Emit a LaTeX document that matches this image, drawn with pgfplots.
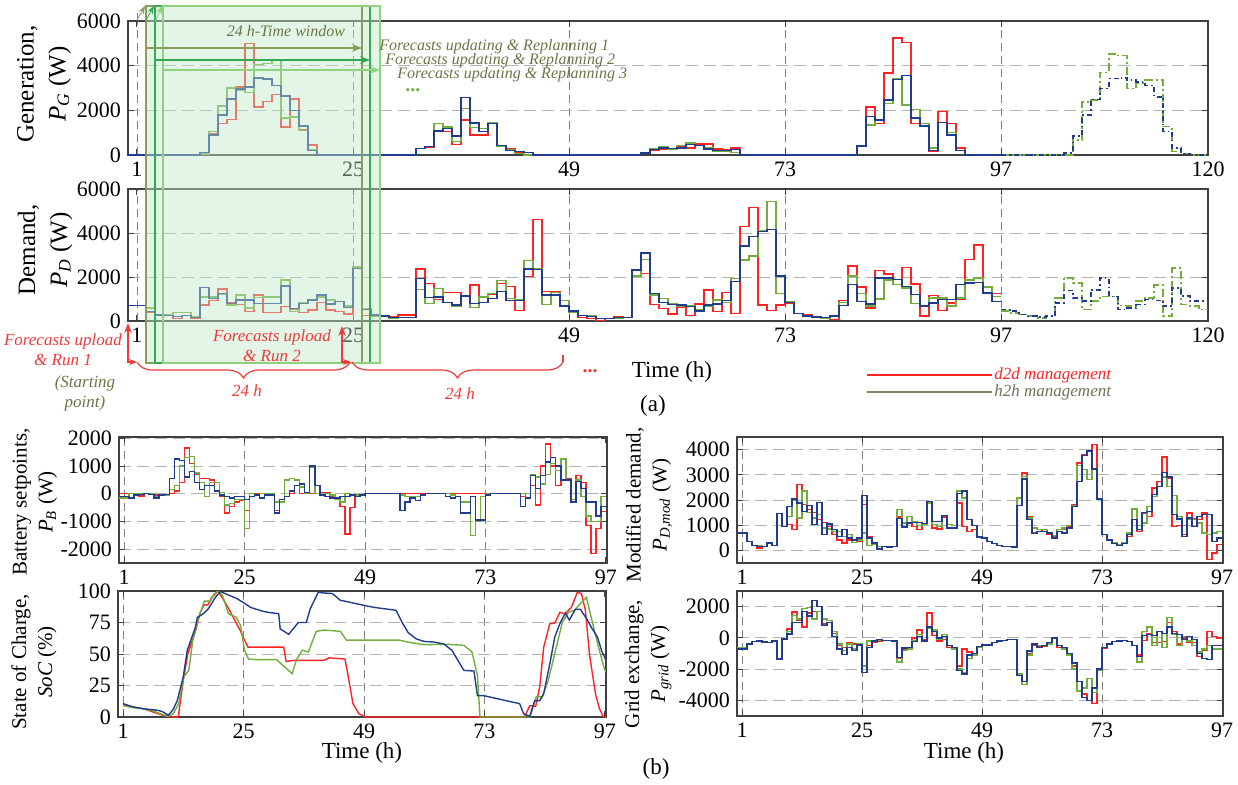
\documentclass[border=0pt]{standalone}
\usepackage{fontspec}
\setmainfont{Liberation Serif}
\usepackage{pgfplots}
\pgfplotsset{compat=1.18}
\usetikzlibrary{arrows.meta,decorations.pathreplacing}

\definecolor{cR}{HTML}{FF2323}
\definecolor{cG}{HTML}{72AD3E}
\definecolor{cB}{HTML}{213C8C}
\definecolor{txtOlive}{HTML}{6E7449}
\definecolor{legOlive}{HTML}{80866A}
\definecolor{annRed}{HTML}{F03A3A}
\definecolor{win1}{HTML}{8C9C5A}
\definecolor{win2}{HTML}{35A853}
\definecolor{win3}{HTML}{8ED27E}
\definecolor{winFill}{HTML}{BFE9CA}

\pgfplotsset{
  panel/.style={scale only axis, anchor=south west, no markers, clip=true,
    axis line style={black!75, line width=0.6pt},
    tick align=inside, major tick length=3pt,
    tick style={black!75, line width=0.5pt},
    grid=major,
    x grid style={black!50, line width=0.45pt, dash pattern=on 4pt off 2.5pt},
    y grid style={black!30, line width=0.45pt, dash pattern=on 6pt off 3pt},
    tick label style={font=\fontsize{11}{13}\selectfont},
    /pgf/number format/1000 sep={},
    /pgf/number format/assume math mode=true,
  },
  sR/.style={const plot, cR, line width=0.7pt},
  sG/.style={const plot, cG, line width=0.7pt},
  sB/.style={const plot, cB, line width=0.7pt},
  fG/.style={const plot, cG, line width=0.8pt, dash pattern=on 4pt off 1.5pt on 1pt off 1.5pt},
  fB/.style={const plot, cB, line width=0.8pt, dash pattern=on 2.5pt off 1.5pt on 0.8pt off 1.5pt},
}

\begin{document}
\begin{tikzpicture}[x=0.5pt,y=-0.5pt]
\useasboundingbox (0,0) rectangle (1238,784);

% ---------------- (a) generation ----------------
\begin{axis}[panel, at={(64pt,-77.5pt)}, width=540pt, height=67pt,
  xmin=0, xmax=120, ymin=0, ymax=6000,
  xtick={1,25,49,73,97,120}, ytick={0,2000,4000,6000}]
\addplot[sR] coordinates {(0,0) (8,100) (9,950) (10,1400) (11,1600) (12,3050) (13,5000) (14,2150) (15,2400) (16,2700) (17,1250) (18,2500) (19,1150) (20,450) (21,0) (32,280) (33,330) (34,1050) (35,1050) (36,460) (37,1570) (38,900) (39,900) (40,1420) (41,430) (42,280) (43,90) (44,0) (57,90) (58,210) (59,270) (60,280) (61,360) (62,310) (63,500) (64,500) (65,270) (66,240) (67,310) (68,0) (81,400) (82,2150) (83,1400) (84,3670) (85,5240) (86,5050) (87,1400) (88,1300) (89,160) (90,1940) (91,1400) (92,310) (93,0) (97,0)};
\addplot[sG] coordinates {(0,0) (8,50) (9,1050) (10,2200) (11,3000) (12,2900) (13,2800) (14,4050) (15,4100) (16,4250) (17,1650) (18,1700) (19,1100) (20,250) (21,0) (32,280) (33,390) (34,1400) (35,1250) (36,610) (37,2090) (38,1230) (39,1200) (40,1450) (41,400) (42,240) (43,60) (44,0) (57,60) (58,270) (59,390) (60,250) (61,420) (62,530) (63,420) (64,310) (65,160) (66,160) (67,120) (68,0) (81,400) (82,1350) (83,1600) (84,2300) (85,3420) (86,2240) (87,2040) (88,1420) (89,310) (90,1450) (91,1000) (92,200) (93,0) (97,0)};
\addplot[sB] coordinates {(0,0) (8,100) (9,900) (10,1800) (11,2500) (12,2950) (13,3050) (14,3450) (15,3400) (16,3100) (17,2650) (18,2000) (19,1300) (20,200) (21,0) (32,280) (33,390) (34,1080) (35,1200) (36,860) (37,2580) (38,1430) (39,1050) (40,1400) (41,430) (42,200) (43,160) (44,120) (45,0) (57,90) (58,240) (59,310) (60,280) (61,310) (62,460) (63,430) (64,270) (65,210) (66,210) (67,240) (68,0) (81,400) (82,1720) (83,1570) (84,2460) (85,3380) (86,3570) (87,1650) (88,1300) (89,200) (90,1450) (91,900) (92,200) (93,0) (97,0)};
\addplot[fG] coordinates {(97,0) (105,680) (106,2380) (107,2450) (108,3700) (109,4530) (110,4450) (111,2970) (112,3230) (113,3350) (114,3350) (115,1270) (116,160) (117,60) (118,0) (120,0)};
\addplot[fB] coordinates {(97,0) (104,90) (105,860) (106,1790) (107,2490) (108,2970) (109,3420) (110,3460) (111,3350) (112,3270) (113,3120) (114,2600) (115,1050) (116,310) (117,60) (118,0) (120,0)};
\end{axis}

% ---------------- (a) demand ----------------
\begin{axis}[panel, at={(64pt,-160.5pt)}, width=540pt, height=66pt,
  xmin=0, xmax=120, ymin=0, ymax=6000,
  xtick={1,25,49,73,97,120}, ytick={0,2000,4000,6000}]
\addplot[sR] coordinates {(0,700) (2,380) (3,270) (4,240) (5,120) (6,240) (7,120) (8,730) (9,920) (10,1450) (11,830) (12,760) (13,420) (14,1180) (15,380) (16,380) (17,650) (18,530) (19,380) (20,500) (21,850) (22,500) (23,420) (24,320) (25,2450) (26,240) (27,240) (28,230) (29,200) (30,270) (32,2360) (33,1710) (34,980) (35,1290) (36,1290) (37,1140) (38,1640) (39,1080) (40,1210) (41,1710) (42,1560) (43,470) (44,2010) (45,4620) (46,1330) (47,1330) (48,920) (49,420) (50,150) (51,120) (52,15) (53,120) (54,200) (55,150) (56,2320) (57,2170) (58,760) (59,580) (60,320) (61,610) (62,240) (63,770) (64,1410) (65,420) (66,1290) (67,350) (68,4290) (69,5170) (70,730) (71,470) (72,730) (73,800) (74,330) (75,300) (76,195) (77,150) (78,75) (79,940) (80,2500) (81,1540) (82,600) (83,2290) (84,2140) (85,1900) (86,2430) (87,1690) (88,225) (89,1150) (90,490) (91,820) (92,1000) (93,2800) (94,3450) (95,1540) (96,1240) (97,1240)};
\addplot[sG] coordinates {(0,700) (2,600) (3,270) (4,270) (5,380) (6,380) (7,200) (8,1100) (9,1100) (10,1230) (11,730) (12,1180) (13,600) (14,1060) (15,1100) (16,1100) (17,1860) (18,420) (19,830) (20,950) (21,1100) (22,950) (23,900) (24,680) (25,2450) (26,580) (27,230) (28,230) (29,120) (30,150) (32,1440) (33,800) (34,1480) (35,830) (36,650) (37,1140) (38,620) (39,1100) (40,1260) (41,1830) (42,1030) (43,950) (44,2740) (45,2360) (46,760) (47,1290) (48,920) (49,380) (50,240) (51,240) (52,120) (55,150) (56,2040) (57,2800) (58,1180) (59,1030) (60,800) (61,650) (62,680) (63,530) (64,650) (65,950) (66,830) (67,1940) (68,2770) (69,2950) (70,4090) (71,5420) (72,1260) (73,880) (74,330) (75,225) (76,150) (77,105) (78,225) (79,850) (80,2050) (81,1240) (82,675) (83,1000) (84,1870) (85,1650) (86,1500) (87,790) (88,700) (89,1050) (90,1050) (91,675) (92,1050) (93,1870) (94,1950) (95,1540) (96,1120) (97,1120)};
\addplot[sB] coordinates {(0,700) (2,420) (3,270) (4,240) (5,200) (6,240) (7,170) (8,1530) (9,1030) (10,1260) (11,800) (12,950) (13,950) (14,800) (17,1590) (18,580) (19,800) (20,950) (21,1180) (22,770) (23,900) (24,620) (25,2400) (26,530) (27,270) (28,230) (29,150) (32,1940) (33,1080) (34,1100) (35,830) (36,730) (37,1140) (38,800) (39,830) (40,1030) (41,1330) (42,920) (43,920) (44,2360) (45,2350) (46,1180) (47,1180) (48,680) (49,450) (50,240) (51,200) (52,120) (54,150) (56,2320) (57,3100) (58,1260) (59,850) (60,760) (61,730) (62,650) (63,450) (64,730) (65,770) (66,920) (67,1790) (68,3410) (69,3830) (70,4060) (71,4170) (72,2040) (73,830) (74,330) (75,225) (76,180) (77,150) (78,225) (79,700) (80,1650) (81,900) (82,780) (83,1950) (84,1950) (85,1900) (86,1570) (87,1200) (88,675) (89,820) (90,970) (91,970) (92,1650) (93,1720) (94,1750) (95,1270) (96,900) (97,900)};
\addplot[fG] coordinates {(97,450) (98,375) (99,300) (100,225) (101,150) (102,255) (103,1050) (104,1950) (105,1720) (106,520) (107,900) (108,1120) (109,1120) (110,700) (111,675) (112,900) (113,1050) (114,1650) (115,225) (116,2400) (117,750) (118,675) (119,520) (120,520)};
\addplot[fB] coordinates {(97,520) (98,450) (99,300) (100,225) (101,180) (102,225) (103,820) (104,1390) (105,1050) (106,900) (107,1420) (108,1950) (109,1120) (110,520) (111,600) (112,750) (113,970) (114,940) (115,675) (116,1500) (117,1150) (118,900) (120,900)};
\end{axis}

% ---------------- (b) battery setpoints ----------------
\begin{axis}[panel, at={(59.5pt,-281.5pt)}, width=244pt, height=63pt,
  xmin=0, xmax=97.2, ymin=-2500, ymax=2050,
  xtick={1,25,49,73,97}, ytick={-2000,-1000,0,1000,2000}]
\addplot[sR] coordinates {(0,0) (4,-80) (5,0) (7,-50) (9,-30) (10,0) (11,100) (12,400) (13,1650) (14,1100) (15,700) (16,550) (18,500) (19,100) (20,-100) (21,-700) (22,-450) (23,-300) (24,-250) (25,-600) (26,0) (31,-600) (32,-200) (33,-100) (34,0) (35,300) (36,0) (40,50) (42,-100) (43,-200) (44,-450) (45,-1450) (46,-500) (47,-100) (48,-50) (49,0) (80,-100) (81,0) (82,300) (83,-400) (84,1000) (85,1800) (86,1000) (87,300) (88,500) (89,550) (90,-200) (91,650) (92,400) (93,-1150) (94,-2150) (95,-1250) (96,-650) (97,-650)};
\addplot[sG] coordinates {(0,-150) (2,0) (7,-100) (8,-50) (10,150) (11,300) (12,1000) (13,1300) (14,1350) (15,750) (16,400) (17,-100) (18,400) (20,50) (21,-400) (22,-350) (23,-200) (25,-1250) (26,0) (27,-50) (28,0) (31,-300) (33,500) (34,550) (35,500) (36,250) (37,0) (38,950) (39,0) (40,-50) (41,0) (42,-50) (43,-200) (44,-300) (45,0) (46,-50) (49,0) (56,-50) (57,-100) (60,-50) (61,0) (66,-50) (67,-100) (68,-300) (70,-1500) (71,-1000) (72,-100) (73,0) (82,700) (83,600) (84,350) (85,700) (86,1100) (87,850) (88,1250) (89,500) (90,-200) (91,500) (92,-100) (93,-800) (94,-1000) (96,-100) (97,-100)};
\addplot[sB] coordinates {(0,-100) (2,-150) (3,-50) (4,-30) (5,0) (6,-30) (7,-150) (8,-50) (9,-20) (10,550) (11,1250) (12,1200) (13,600) (14,800) (15,400) (16,150) (17,300) (19,100) (20,-50) (21,-100) (22,-150) (23,-100) (25,-200) (26,-100) (27,-50) (28,-150) (29,-50) (31,-700) (32,-200) (33,-100) (34,100) (35,300) (36,350) (37,50) (38,1000) (39,300) (40,-50) (41,-100) (42,-150) (44,-100) (46,-50) (47,-100) (48,-50) (49,0) (56,-600) (57,-300) (58,-150) (59,-250) (60,-50) (61,0) (65,-100) (66,-150) (67,-100) (68,-700) (70,-100) (71,-950) (73,-50) (74,0) (80,-450) (81,-150) (82,650) (83,200) (84,650) (85,1150) (86,1300) (87,1000) (88,500) (90,-300) (91,450) (92,200) (93,-300) (95,-800) (96,-450) (97,-450)};
\end{axis}

% ---------------- (b) state of charge ----------------
\begin{axis}[panel, at={(59pt,-358.5pt)}, width=244pt, height=63pt,
  xmin=0, xmax=97.2, ymin=0, ymax=100,
  xtick={1,25,49,73,97}, ytick={0,25,50,75,100}]
\addplot[cR, line width=0.7pt] coordinates {(1,10) (3,8) (5,6.6) (7,4) (9,1.3) (10,0) (12,0) (13,29) (13.9,50) (15.5,69) (16.3,82) (17.1,89) (17.9,89) (18.7,95) (19.9,100) (21.1,92.6) (21.9,87) (23.1,78) (24.3,69) (25.1,62) (25.9,55.5) (33,55.5) (33.5,44) (35,45) (41,45) (42.1,47) (45.2,46) (45.6,38) (46.8,10.6) (48,2.6) (49.2,0) (81,0) (82,9) (83.2,8.5) (84,24) (84.8,55.5) (86,74) (87,74.6) (88,83) (89.1,82) (90.3,87) (91.5,99) (92.3,98) (93.1,84.7) (93.9,50) (95.1,18.5) (95.9,6.6) (96.7,0) (97.2,0)};
\addplot[cG, line width=0.7pt] coordinates {(1,9) (3,7.4) (5,6.6) (7,4.8) (9,1.8) (10,0.5) (11,2.6) (12.1,10.6) (13.1,32) (14.1,37) (14.9,61) (16.1,79) (17.2,92) (18.4,92) (19.2,98) (20,100) (20.8,96.6) (22,82) (23.6,79) (24.4,72.8) (25.2,53) (26,46) (27.6,45.5) (31.6,45.5) (33.2,39.7) (34.7,34.4) (35.5,45) (36.7,53) (37.9,51.6) (39.5,68) (41.1,69) (44.3,68) (45.5,61) (48.2,61) (56.1,61) (57.7,59.5) (60.9,57.4) (65.7,57.7) (68.9,56.9) (70.5,51.6) (71.6,33) (72.1,0) (82.1,0) (83.3,16) (84.5,16) (85.7,29) (87.3,55.5) (88.5,75) (89.7,83) (90.9,84.7) (92.1,90) (93.3,95) (94.5,75) (95.7,55.5) (96.9,38) (97.2,35.7)};
\addplot[cB, line width=0.7pt] coordinates {(1,10.6) (3,8) (5,6.6) (8,5.3) (9,4) (10,1.3) (11,6) (11.8,13) (13,32) (13.8,53) (15.4,71) (15.8,79) (17,82) (18,86) (19.4,95) (20.4,99.7) (21.3,98) (23.7,94) (24.9,91) (26.4,87) (28.8,84) (30,83) (32,82) (32.3,70) (34,65.6) (34.7,69) (35.9,75) (37.5,75) (38.3,86) (39.9,99) (41.1,98.4) (42.7,98) (44.3,92.6) (45.1,92) (47.4,90) (49,88.6) (51,87) (55.4,84.7) (56.6,75) (57.8,67) (59.4,62) (61,60) (62.9,59.5) (64.9,58) (66.5,53) (67.7,45) (68.9,37) (70.9,36.5) (71.6,17) (72.8,17) (75.6,14.5) (78.4,12) (80,10.6) (80.8,2.6) (82,0.5) (83,13) (84,13) (84.8,18.5) (86,42) (87,63.5) (88,74) (89.1,82.5) (89.9,77) (91.1,85.5) (92.1,85.5) (93.5,77) (94.3,71) (95.5,63.5) (96.3,53) (97.2,45)};
\end{axis}

% ---------------- (b) modified demand ----------------
\begin{axis}[panel, at={(368.5pt,-281.5pt)}, width=243pt, height=63pt,
  xmin=0, xmax=97.2, ymin=-500, ymax=4500,
  xtick={1,25,49,73,97}, ytick={0,1000,2000,3000,4000}]
\addplot[sR] coordinates {(0,690) (2,360) (3,185) (4,93) (5,160) (6,265) (7,185) (8,1460) (9,950) (10,1020) (11,820) (12,2610) (13,1820) (14,1620) (15,1510) (16,1220) (17,1110) (18,950) (19,620) (20,420) (21,290) (22,420) (23,320) (24,360) (25,1820) (26,530) (27,290) (28,160) (30,130) (31,160) (32,1330) (33,1090) (34,1060) (35,950) (36,820) (37,1020) (38,1880) (39,890) (40,850) (41,1330) (42,890) (44,1880) (45,950) (46,755) (47,820) (48,530) (49,490) (50,360) (51,265) (52,185) (53,160) (55,130) (56,2080) (57,3070) (58,1330) (59,715) (60,755) (61,820) (62,620) (63,530) (64,820) (66,950) (67,1820) (68,3470) (69,3800) (70,3960) (71,4200) (72,2040) (73,620) (74,420) (75,290) (76,225) (77,320) (78,560) (79,1620) (80,755) (81,1480) (82,1350) (83,2480) (84,2740) (85,3700) (86,2880) (87,950) (88,980) (89,620) (90,1480) (91,1250) (92,1220) (93,1480) (94,-370) (95,-100) (96,225) (97,225)};
\addplot[sG] coordinates {(0,690) (2,360) (3,185) (5,160) (6,320) (7,185) (8,1460) (9,950) (10,1350) (11,1990) (12,1290) (13,2350) (14,1510) (15,1290) (16,1420) (17,890) (18,850) (19,755) (21,560) (22,620) (23,320) (24,420) (25,690) (26,185) (27,225) (28,160) (30,130) (31,160) (32,1620) (33,1090) (34,1350) (35,1150) (36,980) (37,1020) (38,1880) (39,1020) (40,950) (41,1380) (42,1020) (43,980) (44,2350) (45,2080) (46,1220) (47,980) (48,560) (49,490) (50,360) (51,265) (52,185) (53,160) (55,130) (56,2080) (57,2940) (58,1290) (59,890) (60,820) (62,720) (63,580) (64,820) (65,890) (66,980) (67,1780) (68,3370) (69,3210) (70,2810) (71,3230) (72,2040) (73,620) (74,420) (75,320) (76,225) (77,320) (78,690) (79,1640) (80,980) (81,1090) (82,1750) (83,2150) (84,2540) (85,2920) (86,2540) (87,2170) (88,1350) (89,980) (90,1220) (92,1090) (93,690) (94,620) (95,690) (96,755) (97,755)};
\addplot[sB] coordinates {(0,690) (2,360) (3,185) (4,160) (6,290) (7,185) (8,1460) (9,950) (10,1750) (11,2040) (12,1880) (13,1550) (14,1780) (15,1020) (16,1910) (17,620) (18,1050) (19,820) (20,560) (21,820) (22,490) (23,420) (24,490) (25,2170) (26,490) (27,290) (28,50) (29,160) (30,130) (31,160) (32,1260) (33,930) (34,1090) (35,1110) (37,1060) (38,1950) (39,1150) (41,1380) (42,890) (44,2250) (45,2350) (46,1220) (47,980) (48,530) (49,490) (50,360) (51,265) (52,185) (53,160) (55,130) (56,1780) (57,2840) (58,1220) (59,660) (60,755) (62,690) (63,490) (64,755) (65,690) (66,890) (67,1750) (68,2740) (69,3760) (70,3940) (71,3230) (72,2040) (73,620) (74,420) (75,265) (76,185) (77,265) (78,620) (79,1220) (80,820) (81,1510) (82,1550) (83,2210) (84,2540) (85,3100) (86,2920) (87,1420) (88,1250) (89,560) (90,1290) (91,950) (92,1350) (93,1420) (95,360) (96,490) (97,490)};
\end{axis}

% ---------------- (b) grid exchange ----------------
\begin{axis}[panel, at={(368.5pt,-358pt)}, width=243pt, height=62.5pt,
  xmin=0, xmax=97.2, ymin=-5000, ymax=3000,
  xtick={1,25,49,73,97}, ytick={-4000,-2000,0,2000}]
\addplot[sR] coordinates {(0,-600) (2,-380) (3,-240) (4,-210) (5,-260) (6,-300) (7,-150) (8,-1350) (9,-60) (10,580) (11,1650) (12,1100) (13,700) (14,1600) (15,1700) (17,900) (18,1000) (19,300) (20,-500) (21,-600) (22,-300) (23,-400) (25,-1850) (26,-500) (27,-300) (28,-200) (29,-150) (31,-200) (32,-1300) (33,-700) (35,0) (36,500) (37,-100) (38,1600) (39,150) (40,-200) (41,-100) (42,-600) (43,-700) (44,-1800) (45,-700) (46,-900) (47,-1000) (48,-600) (49,-450) (51,-300) (52,-200) (53,-150) (54,-100) (56,-2400) (57,-3000) (58,-1000) (59,-500) (60,-550) (62,-400) (63,0) (64,-600) (65,-700) (66,-1100) (67,-1800) (68,-3450) (69,-3600) (70,-4000) (71,-4200) (72,-2100) (73,-650) (74,-350) (75,-250) (76,-200) (77,-150) (78,-250) (79,-500) (80,-1100) (81,-150) (82,300) (83,-300) (85,-250) (86,1000) (87,400) (88,-400) (89,0) (90,-300) (92,-1200) (93,-800) (94,400) (95,100) (96,0) (97,0)};
\addplot[sG] coordinates {(0,-650) (2,-380) (3,-240) (4,-210) (5,-260) (6,-300) (7,-210) (8,-1350) (9,-60) (10,400) (11,1430) (12,1200) (13,1900) (14,1950) (15,1200) (16,1700) (17,1200) (18,1100) (19,400) (20,-400) (21,-800) (22,-400) (23,-700) (24,-400) (25,-1800) (26,-200) (28,-150) (31,-200) (32,-1550) (33,-800) (34,-700) (35,-200) (36,200) (37,-200) (38,600) (39,500) (40,-100) (41,200) (42,-500) (43,-700) (44,-2000) (45,-2200) (46,-1300) (47,-1100) (48,-600) (49,-450) (51,-300) (52,-200) (53,-150) (54,-100) (56,-2300) (57,-3000) (58,-1100) (59,-400) (60,-500) (62,-400) (63,0) (64,-500) (65,-700) (66,-1100) (67,-2000) (68,-3400) (69,-3200) (70,-2600) (71,-3500) (72,-2100) (73,-600) (74,-400) (75,-250) (76,-200) (77,-150) (78,-250) (79,-500) (80,-1550) (81,400) (82,700) (83,-500) (84,400) (85,-600) (86,1300) (87,200) (88,-500) (89,100) (90,-200) (91,-500) (92,-900) (93,-700) (94,-500) (95,-700) (97,-700)};
\addplot[sB] coordinates {(0,-700) (2,-380) (3,-240) (4,-210) (5,-260) (6,-300) (7,-210) (8,-1350) (9,-60) (10,260) (11,1000) (13,1700) (14,1400) (15,2400) (16,2000) (17,800) (18,1000) (19,100) (20,-700) (21,-1050) (22,-600) (23,-800) (24,-450) (25,-2200) (26,-600) (27,-200) (28,-100) (29,-150) (31,-200) (32,-1250) (33,-650) (34,-600) (35,-250) (36,100) (37,-200) (38,700) (39,400) (40,0) (41,100) (42,-500) (43,-600) (44,-2100) (45,-2300) (46,-1100) (47,-1000) (48,-550) (49,-450) (51,-300) (52,-200) (53,-150) (54,-100) (56,-2400) (57,-2800) (58,-850) (59,-400) (60,-600) (61,-500) (62,-300) (63,0) (64,-500) (65,-600) (66,-1000) (67,-1600) (68,-2800) (69,-3800) (70,-4000) (71,-3200) (72,-2000) (73,-600) (74,-400) (75,-250) (76,-200) (77,-150) (78,-250) (79,-500) (80,-1200) (81,150) (82,200) (83,150) (84,400) (85,300) (86,700) (87,300) (88,200) (89,-100) (90,100) (91,-100) (92,-1000) (93,-1300) (94,-1400) (95,-500) (97,-500)};
\end{axis}

% ---------------- y labels ----------------
\begin{scope}[every node/.style={rotate=90, align=center, font=\fontsize{12.5}{16}\selectfont}]
\node at (44,84) {Generation,\\\textit{P}\textsubscript{\textit{G}} (W)};
\node at (45,250) {Demand,\\\textit{P}\textsubscript{\textit{D}} (W)};
\end{scope}
\begin{scope}[every node/.style={rotate=90, align=center, font=\fontsize{10.5}{13}\selectfont}]
\node at (35,502) {Battery setpoints,\\\textit{P}\textsubscript{\textit{B}} (W)};
\node at (34,662) {State of Charge,\\\textit{SoC} (\%)};
\node at (649,505) {Modified demand,\\\textit{P}\textsubscript{\textit{D,mod}} (W)};
\node at (648,664) {Grid exchange,\\\textit{P}\textsubscript{\textit{grid}} (W)};
\end{scope}

% ---------------- x labels, panel tags ----------------
\node[font=\fontsize{11.5}{13}\selectfont] at (672,372) {Time (h)};
\node[font=\fontsize{11.5}{13}\selectfont] at (362,753) {Time (h)};
\node[font=\fontsize{11.5}{13}\selectfont] at (964,753) {Time (h)};
\node[font=\fontsize{11.5}{13}\selectfont] at (653,406) {(a)};
\node[font=\fontsize{11.5}{13}\selectfont] at (656,769) {(b)};

% ---------------- replanning windows ----------------
\fill[winFill, fill opacity=0.45] (146,6) rectangle (380,363);
\draw[win1, line width=0.8pt] (146,6) rectangle (362,363);
\draw[win2, line width=0.8pt] (155,6) rectangle (370,363);
\draw[win3, line width=0.8pt] (163,6) rectangle (380,363);
\draw[black!50, dash pattern=on 4pt off 2.5pt] (137,21) -- (137,8);
\draw[win1, -{Stealth[length=4pt]}] (137,20) -- (145,6);
\draw[win2, -{Stealth[length=4pt]}] (146,20) -- (154,6);
\draw[win3, -{Stealth[length=4pt]}] (155,22) -- (162,6);
\draw[win1, line width=0.6pt, -{Stealth[length=5pt]}] (146,48) -- (362,48);
\draw[win2, line width=0.6pt, -{Stealth[length=5pt]}] (155,60) -- (370,60);
\draw[win3, line width=0.6pt, -{Stealth[length=5pt]}] (163,70) -- (380,70);
\begin{scope}[every node/.style={text=txtOlive, font=\fontsize{8}{10}\itshape}]
\node at (286,31) {24 h-Time window};
\node[anchor=west, inner sep=0pt] at (379,47) {Forecasts updating \& Replanning 1};
\node[anchor=west, inner sep=0pt] at (385,61) {Forecasts updating \& Replanning 2};
\node[anchor=west, inner sep=0pt] at (397,75) {Forecasts updating \& Replanning 3};
\node[anchor=west, inner sep=0pt, text=cG, font=\fontsize{10}{10}\bfseries] at (405,90) {...};
\end{scope}

% ---------------- run annotations ----------------
\begin{scope}[annRed, line width=0.6pt]
\draw[-{Stealth[length=5pt]}] (128,352) -- (128,323);
\draw[-{Stealth[length=4pt]}] (128,352) |- (137,362);
\draw[-{Stealth[length=5pt]}] (342,352) -- (342,326);
\draw[-{Stealth[length=4pt]}] (342,352) |- (351,362);
\draw[decorate, decoration={brace, mirror, amplitude=8pt}] (137,362) -- (350,362);
\draw[decorate, decoration={brace, mirror, amplitude=8pt}] (352,362) -- (563,362);
\draw (563,362) -- (563,355);
\end{scope}
\begin{scope}[every node/.style={text=annRed, font=\fontsize{8.5}{10}\itshape, align=center}]
\node at (63,350) {Forecasts upload\\\& Run 1};
\node at (272,346) {Forecasts upload\\\& Run 2};
\node at (247,391) {24 h};
\node at (460,394) {24 h};
\node[font=\fontsize{10}{10}\bfseries] at (590,371) {...};
\end{scope}
\node[text=txtOlive, font=\fontsize{8.5}{10}\itshape, align=center] at (85,393) {(Starting\\point)};

% ---------------- legend ----------------
\draw[cR, line width=0.7pt] (867,375) -- (992,375);
\node[anchor=west, inner sep=1pt, text=cR, font=\fontsize{8.5}{10}\itshape] at (992,375) {d2d management};
\draw[legOlive, line width=0.7pt] (867,392) -- (992,392);
\node[anchor=west, inner sep=1pt, text=legOlive!85!black, font=\fontsize{8.5}{10}\itshape] at (992,392) {h2h management};
\end{tikzpicture}
\end{document}
